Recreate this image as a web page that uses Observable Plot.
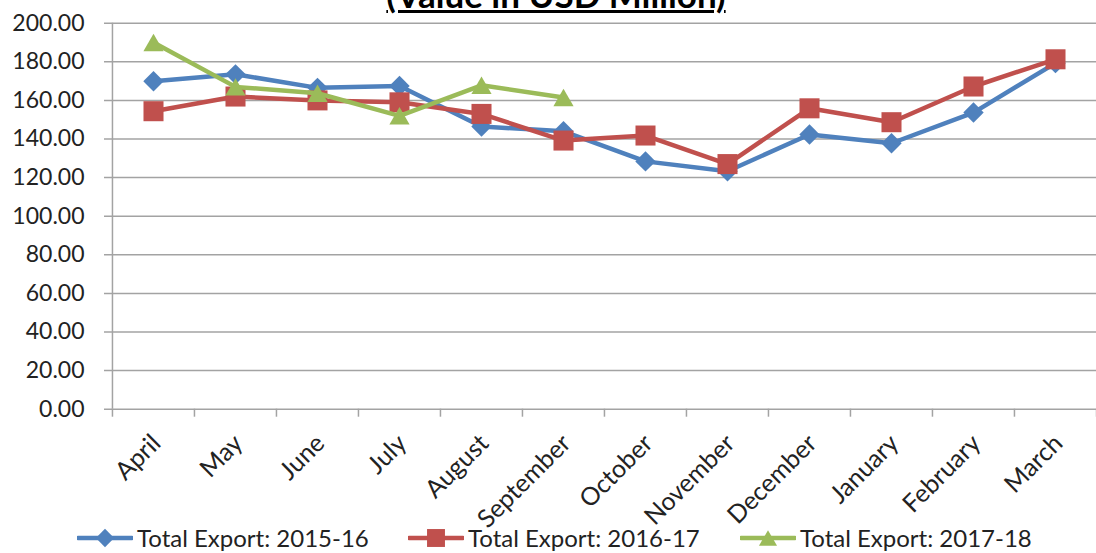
<!DOCTYPE html>
<html>
<head>
<meta charset="utf-8">
<script src="https://cdn.jsdelivr.net/npm/d3@7"></script>
<script src="https://cdn.jsdelivr.net/npm/@observablehq/plot@0.6"></script>
<style>
  html, body { margin: 0; padding: 0; background: #fff; overflow: hidden; }
  #wrap { position: relative; width: 1096px; height: 553px; overflow: hidden; font-family: Lato, "Open Sans", sans-serif; }
  #title { position: absolute; left: 8px; width: 1096px; top: -23px; text-align: center; font-weight: bold; font-size: 35px; line-height: 35px; text-decoration: underline; text-decoration-thickness: 2.5px; color: #000; white-space: nowrap; }
  #chart { position: absolute; left: 0; top: 0; }
  #legend { position: absolute; left: 0; top: 521px; width: 1096px; height: 33px; }
  .item { position: absolute; top: 0; height: 33px; display: flex; align-items: center; font-size: 24px; color: #222; white-space: nowrap; }
  .item svg { margin-right: 4px; }
</style>
</head>
<body>
<div id="wrap">
  <div id="chart"></div>
  <div id="title">(Value in USD Million)</div>
  <div id="legend"></div>
</div>
<script>
// ---- data ----
const months = ["April", "May", "June", "July", "August", "September", "October", "November", "December", "January", "February", "March"];
const export2015 = [169.9, 173.5, 166.5, 167.5, 146.5, 144.0, 128.4, 123.3, 142.3, 137.8, 153.7, 179.3];
const export2016 = [154.4, 162.0, 160.0, 159.0, 153.0, 139.2, 141.8, 127.0, 155.9, 148.7, 167.2, 181.3];
const export2017 = [190.0, 167.0, 163.7, 152.0, 167.8, 161.5];
const seriesNames = ["Total Export: 2015-16", "Total Export: 2016-17", "Total Export: 2017-18"];
const yTicks = [0, 20, 40, 60, 80, 100, 120, 140, 160, 180, 200];

// ---- styles ----
const colors = ["#4F81BD", "#C0504D", "#9BBB59"];
const symbols = ["diamond2", "square", "triangle"];
const radii = [9.2, 11.3, 7.5];
const symDy = [0, 0, 2.9];
const gridColor = "#a3a3a3";
const textColor = "#222";

const seriesValues = [export2015, export2016, export2017];
const tables = seriesValues.map((vals, s) =>
  vals.map((v, i) => ({month: months[i], value: v, series: seriesNames[s]}))
);

const W = 1096, H = 520;
const xLeft = 111, xRight = 1096;
const half = (xRight - xLeft) / months.length / 2;

const seriesMarks = [];
tables.forEach((t, s) => {
  seriesMarks.push(Plot.line(t, {x: "month", y: "value", stroke: colors[s], strokeWidth: 4.5, strokeLinejoin: "round", strokeLinecap: "round"}));
  seriesMarks.push(Plot.dot(t, {x: "month", y: "value", symbol: symbols[s], r: radii[s], fill: colors[s], stroke: "none", dy: symDy[s]}));
});

const chart = Plot.plot({
  width: W,
  height: H,
  marginLeft: 111,
  marginRight: 0,
  marginTop: 22.7,
  marginBottom: H - 408.7,
  x: {type: "point", domain: months, range: [xLeft, xRight], padding: 0.5, axis: null},
  y: {domain: [0, 200], axis: null},
  style: {fontFamily: "Lato, 'Open Sans', sans-serif", background: "white", overflow: "visible"},
  marks: [
    Plot.ruleY(yTicks, {y: d => d, stroke: gridColor, strokeWidth: 1.5, insetLeft: -7}),
    Plot.ruleX([months[0]], {x: d => d, dx: -half, y1: 0, y2: 200, stroke: gridColor, strokeWidth: 1.5}),
    Plot.ruleX(months, {x: d => d, dx: -half, y1: 0, y2: 0, insetBottom: -8, stroke: gridColor, strokeWidth: 1.5}),
    Plot.ruleX([months[months.length - 1]], {x: d => d, dx: half, y1: 0, y2: 0, insetBottom: -8, stroke: gridColor, strokeWidth: 1.5}),
    Plot.text(yTicks, {y: d => d, text: d => d.toFixed(2), frameAnchor: "left", textAnchor: "end", dx: -27, fontSize: 23, fill: textColor}),
    Plot.text(months, {x: d => d, y: 0, text: d => d, rotate: -45, textAnchor: "end", dx: 3, dy: 30, fontSize: 25, fill: textColor}),
    ...seriesMarks
  ]
});
document.getElementById("chart").appendChild(chart);

// ---- legend ----
const legendLeft = [77, 408, 740];
const legend = document.getElementById("legend");
seriesNames.forEach((name, s) => {
  const item = document.createElement("div");
  item.className = "item";
  item.style.left = legendLeft[s] + "px";
  const sym = d3.symbol().type({diamond2: d3.symbolDiamond2, square: d3.symbolSquare, triangle: d3.symbolTriangle}[symbols[s]]).size(Math.PI * radii[s] * radii[s] * 0.8)();
  item.innerHTML = `<svg width="56" height="26" viewBox="0 0 56 26"><line x1="1" x2="55" y1="13" y2="13" stroke="${colors[s]}" stroke-width="4.5" stroke-linecap="round"/><path d="${sym}" transform="translate(28,${13 + symDy[s] * 0.9})" fill="${colors[s]}"/></svg><span>${name}</span>`;
  legend.appendChild(item);
});
</script>
</body>
</html>
